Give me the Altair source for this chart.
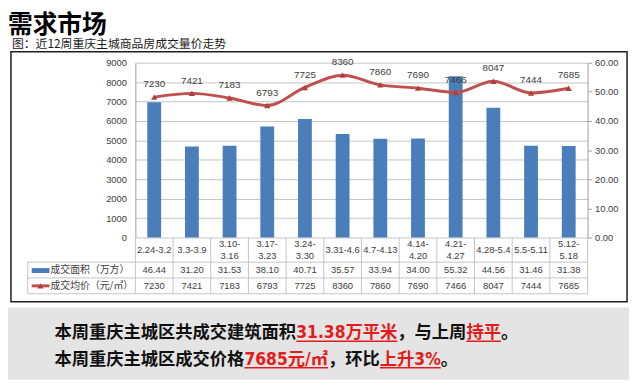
import altair as alt
import pandas as pd

# ---------------- data ----------------
weeks = ["2.24-3.2", "3.3-3.9", "3.10-3.16", "3.17-3.23", "3.24-3.30", "3.31-4.6",
         "4.7-4.13", "4.14-4.20", "4.21-4.27", "4.28-5.4", "5.5-5.11", "5.12-5.18"]
area = [46.44, 31.20, 31.53, 38.10, 40.71, 35.57, 33.94, 34.00, 55.32, 44.56, 31.46, 31.38]
price = [7230, 7421, 7183, 6793, 7725, 8360, 7860, 7690, 7466, 8047, 7444, 7685]
left_ticks = [0, 1000, 2000, 3000, 4000, 5000, 6000, 7000, 8000, 9000]
right_ticks = [0, 10, 20, 30, 40, 50, 60]
series_names = ["成交面积（万方）", "成交均价（元/㎡）"]
title_text = "需求市场"
subtitle_text = "图：近12周重庆主城商品房成交量价走势"
line1_texts = ["本周重庆主城区共成交建筑面积", "31.38万平米", "，与上周", "持平", "。"]
line1_red = [False, True, False, True, False]
line2_texts = ["本周重庆主城区成交价格", "7685元/㎡", "，环比", "上升3%", "。"]
line2_red = [False, True, False, True, False]

# ---------------- layout ----------------
W, H = 458, 177
PAD_L, PAD_T = 129, 53
PAD_R = 632 - PAD_L - W
PAD_B = 378 - PAD_T - H


def px(x):
    return x - 8 - PAD_L


def py(y):
    return y - 8 - PAD_T


CJK = "Noto Sans CJK SC"
NUM = "Liberation Sans"
SUM_FONT = "DejaVu Sans Condensed, Noto Sans CJK SC"
TXT = "#404040"
GRID = "#c4c4c4"
BLUE = "#4a7ebb"
RED = "#c0504d"

df = pd.DataFrame({
    "week": weeks,
    "label": [w.replace("-", "-\n") if len(w) > 8 else w for w in weeks],
    "wrapped": [len(w) > 8 for w in weeks],
    "area": area,
    "price": price,
})
one = pd.DataFrame({"k": [0]})
base = alt.Chart(df)

xscale = alt.Scale(paddingInner=0, paddingOuter=0)
X = alt.X("week:N", sort=weeks, scale=xscale, axis=None)

Y_PRICE = alt.Y("price:Q", scale=alt.Scale(domain=[0, 9000], nice=False),
                axis=alt.Axis(orient="left", values=left_ticks, format="d", labelOverlap=False,
                              grid=True, gridColor=GRID, domain=True, domainColor="#a0a0a0",
                              ticks=False, labelFont=NUM, labelFontSize=9.5, labelColor=TXT,
                              labelPadding=9, title=None))
Y_AREA = alt.Y("area:Q", scale=alt.Scale(domain=[0, 60], nice=False),
               axis=alt.Axis(orient="right", values=right_ticks, format=".2f", labelOverlap=False,
                             grid=False, domain=True, domainColor="#a0a0a0", ticks=True,
                             tickSize=4, tickColor="#a0a0a0", labelFont=NUM, labelFontSize=9.5,
                             labelColor=TXT, labelPadding=3, title=None))

# background band & frame
band = alt.Chart(one).mark_rect(color="#e4e4e4").encode(
    x=alt.value(px(0)), x2=alt.value(px(637)), y=alt.value(py(309)), y2=alt.value(py(382)))
frame = alt.Chart(one).mark_rect(fillOpacity=0, stroke="#1e1e1e", strokeWidth=1.5).encode(
    x=alt.value(px(11)), x2=alt.value(px(635)), y=alt.value(py(50)), y2=alt.value(py(303)))

# bars (right axis)
bars = base.mark_bar(size=14, color=BLUE).encode(x=X, y=Y_AREA)

# price line (left axis)
line = base.mark_line(color=RED, strokeWidth=3, interpolate="monotone").encode(x=X, y=Y_PRICE)
pts = base.mark_point(shape="triangle-up", filled=True, size=40, color="#b23e3b",
                      opacity=1).encode(x=X, y=Y_PRICE)
lbls = base.mark_text(dy=-13, font=NUM, fontSize=10, color=TXT).encode(
    x=X, y=Y_PRICE, text=alt.Text("price:Q", format="d"))
price_layer = alt.layer(line, pts, lbls)

# table grid
vrules = base.mark_rule(color=GRID, strokeWidth=1).encode(
    x=alt.X("week:N", sort=weeks, scale=xscale, axis=None, bandPosition=0),
    y=alt.value(py(238)), y2=alt.value(py(295)))
rright = alt.Chart(one).mark_rule(color=GRID, strokeWidth=1).encode(
    x=alt.value(W), y=alt.value(py(238)), y2=alt.value(py(295)))
rleft = alt.Chart(one).mark_rule(color=GRID, strokeWidth=1).encode(
    x=alt.value(px(28)), y=alt.value(py(263)), y2=alt.value(py(295)))
hrules = [alt.Chart(one).mark_rule(color=GRID, strokeWidth=1).encode(
    x=alt.value(px(28)), x2=alt.value(W), y=alt.value(py(yy))) for yy in (263, 279, 295)]

cat_single = base.transform_filter("!datum.wrapped").mark_text(
    font=NUM, fontSize=9.5, color=TXT, baseline="middle").encode(
    x=X, y=alt.value(py(251)), text="label:N")
cat_wrapped = base.transform_filter("datum.wrapped").mark_text(
    lineBreak="\n", lineHeight=12, font=NUM, fontSize=9.5, color=TXT, baseline="middle").encode(
    x=X, y=alt.value(py(245)), text="label:N")
area_text = base.mark_text(font=NUM, fontSize=9.5, color=TXT, baseline="middle").encode(
    x=X, y=alt.value(py(271)), text=alt.Text("area:Q", format=".2f"))
price_text = base.mark_text(font=NUM, fontSize=9.5, color=TXT, baseline="middle").encode(
    x=X, y=alt.value(py(287)), text=alt.Text("price:Q", format="d"))

# legend column
sym1 = alt.Chart(one).mark_rect(color=BLUE).encode(
    x=alt.value(px(32)), x2=alt.value(px(50)), y=alt.value(py(269)), y2=alt.value(py(274)))
sym2 = alt.Chart(one).mark_rule(color=RED, strokeWidth=3).encode(
    x=alt.value(px(32)), x2=alt.value(px(50)), y=alt.value(py(287)))
sym2p = alt.Chart(one).mark_point(shape="triangle-up", filled=True, size=40, color="#b23e3b",
                                  opacity=1).encode(x=alt.value(px(41)), y=alt.value(py(287)))
leg1 = alt.Chart(one).mark_text(text=series_names[0], font=CJK, fontSize=10, color=TXT,
                                align="left", baseline="middle").encode(
    x=alt.value(px(51)), y=alt.value(py(271)))
leg2 = alt.Chart(one).mark_text(text=series_names[1], font=CJK, fontSize=10, color=TXT,
                                align="left", baseline="middle").encode(
    x=alt.value(px(51)), y=alt.value(py(287)))

# titles
title = alt.Chart(one).mark_text(text=title_text, font=CJK, fontSize=25, fontWeight="bold",
                                 color="#000000", align="left", baseline="alphabetic").encode(
    x=alt.value(px(8)), y=alt.value(py(31)))
subtitle = alt.Chart(one).mark_text(text=subtitle_text, font=CJK, fontSize=12,
                                    color="#1a1a1a", align="left", baseline="alphabetic").encode(
    x=alt.value(px(12)), y=alt.value(py(46)))


# bottom summary text (latin glyphs from DejaVu Sans Condensed Bold, CJK from Noto)
def text_width(s, fs):
    w = 0.0
    for c in s:
        if ord(c) > 0x2000:
            w += fs
        elif c == ".":
            w += 0.34 * fs
        elif c == "/":
            w += 0.33 * fs
        elif c == "%":
            w += 0.90 * fs
        else:
            w += 0.626 * fs
    return w


FS = 17.5
summary_layers = []
for texts, reds, baseline_y in ((line1_texts, line1_red, 340), (line2_texts, line2_red, 367)):
    x0 = 55.0
    for t, r in zip(texts, reds):
        col = "#e31b1b" if r else "#111111"
        summary_layers.append(
            alt.Chart(one).mark_text(text=t, font=SUM_FONT, fontSize=FS, fontWeight="bold",
                                     color=col, align="left", baseline="alphabetic").encode(
                x=alt.value(px(x0)), y=alt.value(py(baseline_y))))
        w = text_width(t, FS)
        if r:
            summary_layers.append(
                alt.Chart(one).mark_rule(color="#e31b1b", strokeWidth=1.5).encode(
                    x=alt.value(px(x0)), x2=alt.value(px(x0 + w)), y=alt.value(py(baseline_y + 3))))
        x0 += w

chart = alt.layer(
    band, frame, bars, vrules, rright, rleft, *hrules, price_layer,
    cat_single, cat_wrapped, area_text, price_text, sym1, sym2, sym2p, leg1, leg2, title, subtitle,
    *summary_layers,
).resolve_scale(y="independent").properties(
    width=W, height=H,
    padding={"left": PAD_L, "top": PAD_T, "right": PAD_R, "bottom": PAD_B},
    autosize=alt.AutoSizeParams(type="none"),
    background="white",
).configure_view(stroke=None)

chart.save("out.html", embed_options={"renderer": "svg", "actions": False})
